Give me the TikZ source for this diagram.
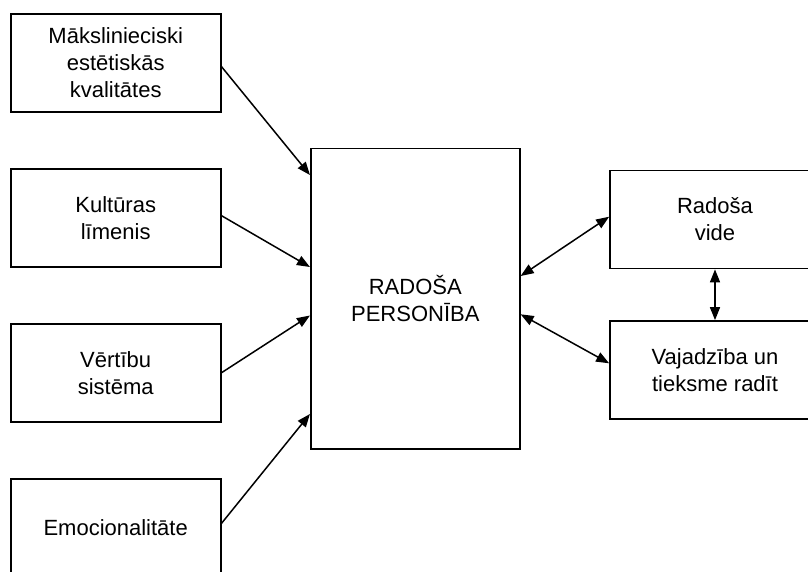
\documentclass[tikz,border=0pt]{standalone}
\usepackage{fontspec}
\setmainfont{Liberation Sans}
\usetikzlibrary{arrows.meta,calc}

\tikzset{
  box/.style={draw=black, line width=1.7pt, fill=white, align=center,
    minimum width=210pt, minimum height=98pt, inner sep=0pt,
    font=\fontsize{22}{27}\selectfont},
  core/.style={box, minimum width=209pt, minimum height=300.7pt},
  link/.style={line width=1.5pt, -{Triangle[length=13pt,width=10pt]}},
  twoway/.style={line width=1.5pt,
    {Triangle[length=13pt,width=10pt]}-{Triangle[length=13pt,width=10pt]}},
}

\begin{document}
\begin{tikzpicture}[x=1pt, y=-1pt]
  \useasboundingbox (0,0) rectangle (808,571);
  \fill[white] (0,0) rectangle (808,571);
  \clip (0,0) rectangle (808,571);

  % factors on the left
  \node[box] (b1) at (115.7,63)  {Mākslinieciski\\estētiskās\\kvalitātes};
  \node[box] (b2) at (115.7,218) {Kultūras\\līmenis};
  \node[box] (b3) at (115.7,373) {Vērtību\\sistēma};
  \node[box] (b4) at (115.7,528) {Emocionalitāte};

  % central box
  \node[core] (c) at (415.3,298.7) {RADOŠA\\PERSONĪBA};

  % boxes on the right, running past the edge
  \node[box] (r1) at (715,219.5) {Radoša\\vide};
  \node[box] (r2) at (715,370)   {Vajadzība un\\tieksme radīt};

  % influences
  \draw[link] (b1.east |- 0,66.7)  -- (c.west |- 0,175);
  \draw[link] (b2.east |- 0,215.7) -- (c.west |- 0,267);
  \draw[link] (b3.east |- 0,372.7) -- (c.west |- 0,315.5);
  \draw[link] (b4.east |- 0,523.3) -- (c.west |- 0,414);

  % mutual relations
  \draw[twoway] (c.east |- 0,276)   -- (r1.west |- 0,216.7);
  \draw[twoway] (c.east |- 0,314.3) -- (r2.west |- 0,363.3);
  \draw[twoway] (r1.south) -- (r2.north);
\end{tikzpicture}
\end{document}
